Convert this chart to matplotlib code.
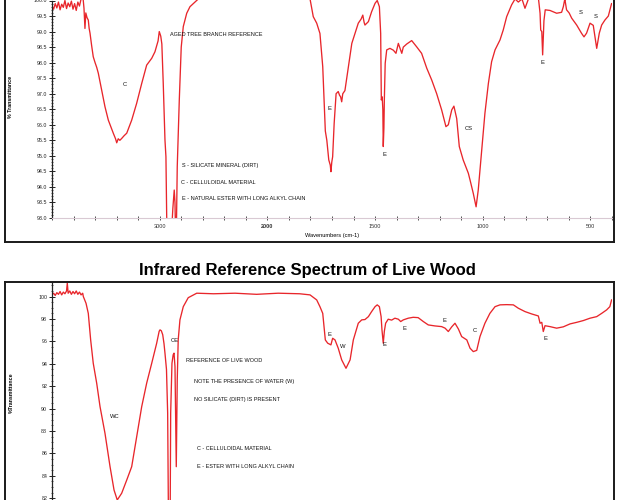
import numpy as np
import matplotlib
matplotlib.use('Agg')
import matplotlib.pyplot as plt
from matplotlib.lines import Line2D
from matplotlib.ticker import MultipleLocator

plt.rcParams['font.family'] = ['Liberation Sans', 'DejaVu Sans']

# ---------------- data ----------------
aged_wn = [4000, 3985, 3970, 3955, 3940, 3925, 3910, 3895, 3880, 3865, 3850, 3835, 3820, 3805,
           3790, 3775, 3760, 3745, 3730, 3715, 3703, 3694, 3686, 3675, 3663, 3655, 3647, 3632,
           3617, 3600, 3585, 3570, 3539, 3508, 3477, 3431, 3410, 3399, 3385, 3370, 3353, 3330,
           3306, 3260, 3214, 3167, 3121, 3074, 3044, 3015, 3004, 2990, 2980, 2967, 2951, 2942,
           2935, 2925, 2895, 2878, 2872, 2865, 2858, 2853, 2845, 2837, 2818, 2800, 2781, 2749,
           2719, 2672, 2626, 2500, 2300, 2100, 1900, 1802, 1787, 1771, 1756, 1743, 1737, 1731,
           1724, 1715, 1708, 1705, 1701, 1697, 1690, 1681, 1671, 1665, 1660, 1655, 1650, 1640,
           1624, 1608, 1593, 1578, 1565, 1557, 1551, 1547, 1531, 1516, 1500, 1490, 1480, 1474,
           1471, 1467, 1464, 1462, 1459, 1457, 1453, 1446, 1431, 1415, 1403, 1392, 1381, 1376,
           1369, 1353, 1330, 1307, 1284, 1260, 1237, 1214, 1191, 1171, 1160, 1144, 1134, 1121,
           1109, 1091, 1067, 1059, 1044, 1031, 1021, 1005, 990, 974, 959, 943, 920, 905, 889,
           866, 850, 835, 818, 804, 788, 760, 742, 734, 731, 726, 722, 716, 710, 688, 657, 634,
           626, 619, 611, 599, 587, 564, 541, 530, 518, 502, 487, 471, 459, 448, 433, 417, 402]
aged_t = [99.82, 99.72, 99.90, 99.76, 99.95, 99.70, 99.88, 99.78, 100.0, 99.74, 99.92, 99.80, 99.98, 99.72,
          99.90, 99.68, 99.95, 99.82, 100.05, 100.2, 99.75, 99.10, 99.60, 99.45, 99.37, 99.10, 98.95, 98.55,
          98.19, 98.00, 97.85, 97.66, 97.12, 96.58, 96.15, 95.73, 95.55, 95.42, 95.55, 95.50, 95.56, 95.65,
          95.73, 96.15, 96.69, 97.33, 97.92, 98.14, 98.35, 98.70, 99.00, 98.85, 98.60, 97.33, 95.51, 94.97,
          93.04, 92.00, 92.20, 93.30, 93.60, 93.90, 93.50, 92.50, 92.60, 94.65, 96.80, 98.50, 99.16, 99.59,
          99.80, 99.95, 100.1, 100.4, 100.5, 100.45, 100.4, 100.05, 99.48, 99.27, 98.94, 97.87, 96.80, 95.80,
          95.50, 94.87, 94.70, 94.49, 94.80, 94.97, 96.04, 97.00, 97.07, 96.95, 96.90, 96.74, 97.00, 97.10,
          97.87, 98.62, 98.94, 99.27, 99.40, 99.53, 99.30, 99.21, 99.32, 99.64, 99.91, 100.0, 99.80, 98.94,
          96.80, 96.90, 96.50, 95.30, 95.90, 96.80, 97.98, 98.41, 98.46, 98.40, 98.30, 98.62, 98.40, 98.30,
          98.50, 98.60, 98.71, 98.51, 98.30, 97.82, 97.44, 97.00, 96.48, 95.94, 96.00, 96.48, 96.60, 96.20,
          95.30, 94.87, 94.44, 94.22, 93.79, 93.36, 93.90, 95.19, 96.37, 97.33, 98.03, 98.41, 98.73, 99.05, 99.48,
          99.86, 100.05, 99.95, 100.05, 99.75, 100.05, 100.15, 100.1, 99.59, 99.05, 99.00, 98.25, 99.35, 99.70, 99.68, 99.59, 99.62,
          99.80, 100.05, 99.70, 99.60, 99.43, 99.21, 98.94, 98.83, 98.95, 99.27, 99.20, 98.46, 98.95, 99.21, 99.37, 99.50, 99.90]

live_wn = [4000, 3985, 3970, 3955, 3940, 3925, 3910, 3895, 3880, 3865, 3858, 3850, 3835, 3820,
           3805, 3790, 3775, 3760, 3745, 3730, 3715, 3709, 3684, 3663, 3641, 3617, 3585, 3554,
           3508, 3461, 3424, 3394, 3353, 3306, 3260, 3214, 3167, 3121, 3074, 3028, 3005, 2997,
           2985, 2972, 2960, 2951, 2937, 2926, 2917, 2904, 2898, 2886, 2875, 2867, 2858, 2852,
           2846, 2837, 2828, 2812, 2781, 2735, 2656, 2500, 2300, 2100, 1950, 1850, 1802, 1771,
           1756, 1743, 1731, 1720, 1705, 1697, 1686, 1671, 1655, 1635, 1616, 1601, 1578, 1562,
           1547, 1531, 1516, 1500, 1490, 1480, 1472, 1468, 1462, 1457, 1451, 1439, 1423, 1408,
           1392, 1381, 1369, 1346, 1323, 1300, 1276, 1253, 1222, 1191, 1175, 1160, 1144, 1129,
           1113, 1098, 1074, 1059, 1044, 1028, 1013, 990, 967, 943, 920, 889, 858, 835, 804, 773,
           742, 734, 726, 719, 711, 688, 657, 626, 595, 564, 533, 502, 471, 448, 425, 410, 402]
live_t = [100.15, 100.3, 100.1, 100.35, 100.2, 100.45, 100.15, 100.4, 100.25, 100.5, 101.2, 100.3, 100.5, 100.2,
          100.45, 100.25, 100.5, 100.2, 100.4, 100.15, 100.3, 100.0, 99.4, 98.5, 96.13, 94.05, 92.27, 90.18,
          87.8, 84.82, 82.74, 81.85, 82.45, 83.63, 84.82, 87.5, 90.18, 92.27, 94.05, 95.84, 96.9, 97.03,
          96.95, 96.6, 95.8, 94.95, 93.5, 89.6, 78.0, 78.0, 89.6, 94.05, 94.8, 94.95, 93.75, 89.6,
          84.82, 92.56, 96.13, 97.92, 99.1, 99.9, 100.3, 100.25, 100.3, 100.2, 100.3, 100.25, 100.15, 99.7,
          99.1, 98.5, 96.13, 95.84, 95.69, 96.28, 96.13, 95.39, 94.35, 93.6, 94.35, 96.13, 97.62, 97.92,
          97.95, 98.21, 98.66, 99.1, 99.26, 99.1, 98.21, 97.03, 95.84, 96.9, 97.62, 97.98, 97.9, 98.07,
          97.98, 97.77, 97.92, 98.07, 98.15, 98.12, 97.77, 97.47, 97.38, 97.32, 97.18, 96.88, 97.3, 97.62,
          97.1, 96.43, 96.13, 95.39, 95.09, 95.2, 96.43, 97.62, 98.5, 99.1, 99.26, 99.28, 99.26, 98.96, 98.66, 98.45,
          98.27, 97.62, 97.7, 96.88, 97.4, 97.32, 97.18, 97.3, 97.56, 97.7, 97.86, 98.07, 98.21, 98.5, 98.81, 99.1, 99.7]

x_ticks = list(range(4000, 2000, -200)) + list(range(2000, 399, -100))
x_labeled = [3000, 2000, 1500, 1000, 500]

title_bottom = "Infrared Reference Spectrum of Live Wood"
notes_top = ["AGED TREE BRANCH REFERENCE", "S - SILICATE MINERAL (DIRT)",
             "C - CELLULOIDAL MATERIAL", "E - NATURAL ESTER WITH LONG ALKYL CHAIN"]
notes_bottom = ["REFERENCE OF LIVE WOOD", "NOTE THE PRESENCE OF WATER (W)",
                "NO SILICATE (DIRT) IS PRESENT", "C - CELLULOIDAL MATERIAL",
                "E - ESTER WITH LONG ALKYL CHAIN"]

# ---------------- figure ----------------
W, H = 625, 500
fig = plt.figure(figsize=(6.25, 5.0), dpi=100)
fig.patch.set_facecolor('white')

def fx(x):
    return x / W

def fy(y):
    return 1 - y / H

def fwd(w):
    w = np.asarray(w, dtype=float)
    return np.where(w >= 2000, w, 2 * w - 2000)

def inv(v):
    v = np.asarray(v, dtype=float)
    return np.where(v >= 2000, v, (v + 2000) / 2)

RED = '#e8262b'
ax_l, ax_r = 52, 612

def style_axes(ax):
    ax.set_xscale('function', functions=(fwd, inv))
    ax.set_xlim(4000, 400)
    for s in ['top', 'right']:
        ax.spines[s].set_visible(False)
    ax.spines['left'].set_color('#222222')
    ax.spines['left'].set_linewidth(0.9)
    ax.tick_params(axis='y', which='major', direction='inout', length=4, width=0.7,
                   labelsize=3.8, pad=1.5, colors='#222222')
    ax.tick_params(axis='y', which='minor', direction='inout', length=2, width=0.5,
                   colors='#222222')

# top panel
ax1 = fig.add_axes([fx(ax_l), fy(218), fx(ax_r - ax_l), 217.5 / H])
style_axes(ax1)
ax1.plot(aged_wn, aged_t, color=RED, lw=0.95)
ax1.set_ylim(93.0, 100.0)
ax1.yaxis.set_major_locator(MultipleLocator(0.5))
ax1.yaxis.set_minor_locator(MultipleLocator(0.1))
ax1.yaxis.set_major_formatter(plt.FuncFormatter(lambda v, p: f"{v:.1f}"))
ax1.set_xticks(x_ticks, labels=[str(t) if t in x_labeled else '' for t in x_ticks])
ax1.tick_params(axis='x', direction='inout', length=2.5, width=0.6, labelsize=4,
                pad=3, colors='#333333')
for lab in ax1.get_xticklabels():
    if lab.get_text() == '2000':
        lab.set_fontweight('bold')
ax1.spines['bottom'].set_color('#d9c9d3')
ax1.spines['bottom'].set_linewidth(0.8)
ax1.set_facecolor('none')

# bottom panel (its x axis lies below the visible area)
ax2 = fig.add_axes([fx(ax_l), fy(520.7), fx(ax_r - ax_l), (520.7 - 282) / H])
style_axes(ax2)
ax2.plot(live_wn, live_t, color=RED, lw=0.95)
ax2.set_ylim(80, 101.3)
ax2.yaxis.set_major_locator(MultipleLocator(2))
ax2.yaxis.set_minor_locator(MultipleLocator(0.5))
ax2.yaxis.set_major_formatter(plt.FuncFormatter(lambda v, p: f"{v:.0f}"))
ax2.set_xticks(x_ticks)
ax2.tick_params(axis='x', labelbottom=False, length=0)
ax2.spines['bottom'].set_visible(False)
ax2.set_facecolor('none')

# frames
fcol = '#1a1a1a'
for (x0, y0, x1, y1) in [(5, -2, 5, 242), (614, -2, 614, 242), (5, 242, 614, 242),
                         (5, 282, 614, 282), (5, 282, 5, 502), (614, 282, 614, 502)]:
    fig.add_artist(Line2D([fx(x0), fx(x1)], [fy(y0), fy(y1)], color=fcol, lw=1.4))

# axis labels
fig.text(fx(11), fy(97), "% Transmittance", rotation=90, fontsize=3.8,
         fontweight='bold', ha='center', va='center')
fig.text(fx(11), fy(393), "%Transmittance", rotation=90, fontsize=3.8,
         fontweight='bold', ha='center', va='center')
fig.text(fx(305), fy(236), "Wavenumbers (cm-1)", fontsize=4.1, ha='left', va='center')

# title
fig.text(fx(307), fy(270), title_bottom, fontsize=12, fontweight='bold',
         ha='center', va='center')

tk = dict(fontsize=4.0, ha='left', va='center', color='#111111')
# top notes
fig.text(fx(170), fy(34), notes_top[0], **tk)
fig.text(fx(182), fy(165), notes_top[1], **tk)
fig.text(fx(181), fy(182), notes_top[2], **tk)
fig.text(fx(182), fy(198), notes_top[3], **tk)
# bottom notes
fig.text(fx(186), fy(360), notes_bottom[0], **tk)
fig.text(fx(194), fy(382), notes_bottom[1], **tk)
fig.text(fx(194), fy(399), notes_bottom[2], **tk)
fig.text(fx(197), fy(448), notes_bottom[3], **tk)
fig.text(fx(197), fy(467), notes_bottom[4], **tk)

pk = dict(fontsize=4.2, ha='center', va='center', color='#111111')
for (x, y, s) in [(125, 85, 'C'), (329, 108, 'E'), (384, 155, 'E'), (469, 129, 'CS'),
                  (542, 62, 'E'), (581, 13, 'S'), (596, 17, 'S')]:
    fig.text(fx(x), fy(y), s, **pk)
for (x, y, s) in [(115, 416, 'WC'), (175, 341, 'CE'), (329, 334, 'E'), (343, 346, 'W'),
                  (384, 344, 'E'), (404, 328, 'E'), (444, 320, 'E'), (475, 331, 'C'),
                  (545, 339, 'E')]:
    fig.text(fx(x), fy(y), s, **pk)

fig.savefig('out.png', dpi=100)
